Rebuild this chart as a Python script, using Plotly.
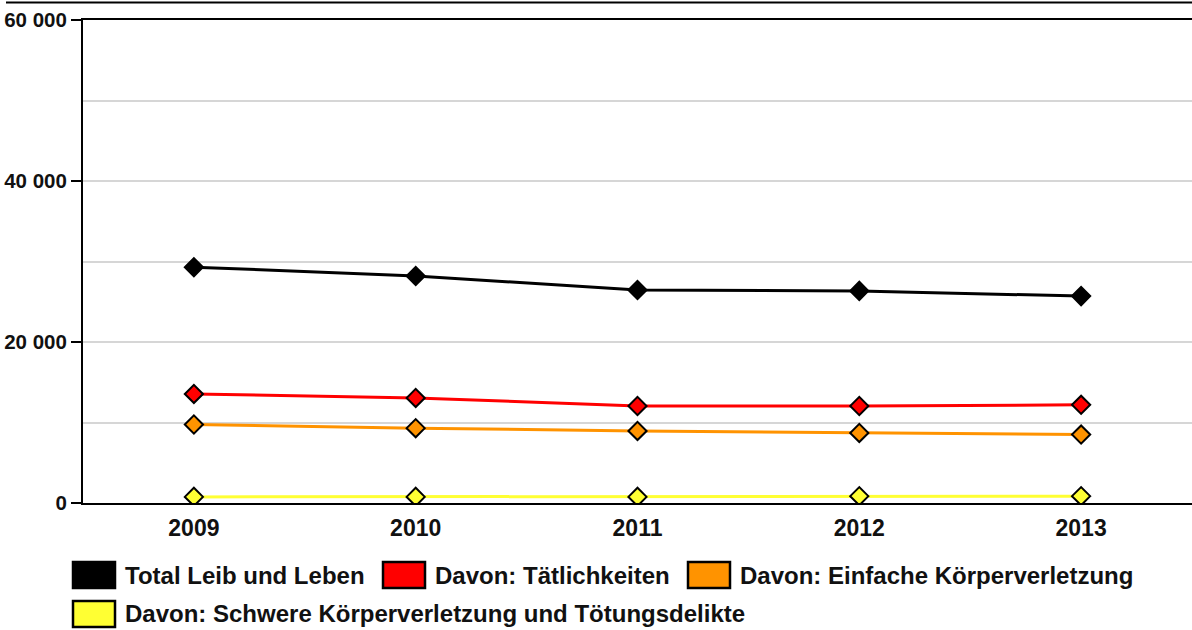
import plotly.graph_objects as go

# ---- data ----
years = ["2009", "2010", "2011", "2012", "2013"]
series_names = [
    "Total Leib und Leben",
    "Davon: Tätlichkeiten",
    "Davon: Einfache Körperverletzung",
    "Davon: Schwere Körperverletzung und Tötungsdelikte",
]
total_leib_leben = [29300, 28200, 26450, 26350, 25700]
taetlichkeiten = [13550, 13050, 12050, 12050, 12200]
einfache_kv = [9750, 9300, 8950, 8700, 8500]
schwere_kv = [760, 760, 760, 850, 850]
y_tick_values = [0, 20000, 40000, 60000]
y_tick_labels = ["0", "20 000", "40 000", "60 000"]

series_values = [total_leib_leben, taetlichkeiten, einfache_kv, schwere_kv]
colors = ["#000000", "#ff0000", "#ff9300", "#ffff33"]

W, H = 1192, 630
ML, MR, MT, MB = 83, 0, 20, 127
PW, PH = W - ML - MR, H - MT - MB


def px_x(x):
    return (x - ML) / PW


def px_y(y):
    return (H - MB - y) / PH


FONT = "Liberation Sans, Arial, sans-serif"

fig = go.Figure()
for name, vals, col in zip(series_names, series_values, colors):
    fig.add_trace(go.Scatter(
        x=years, y=vals, name=name, mode="lines+markers",
        line=dict(color=col, width=3),
        marker=dict(symbol="diamond", size=14, color=col,
                    line=dict(color="#000000", width=2)),
        showlegend=False,
    ))

# manual legend (rectangles + labels)
legend_pos = [(73, 575), (383, 575), (688, 575), (73, 614)]
shapes = []
annotations = []
for (lx, cy), name, col in zip(legend_pos, series_names, colors):
    shapes.append(dict(type="rect", xref="paper", yref="paper",
                       x0=px_x(lx), x1=px_x(lx + 42),
                       y0=px_y(cy - 13), y1=px_y(cy + 13),
                       fillcolor=col, line=dict(color="#000000", width=2.5)))
    annotations.append(dict(xref="paper", yref="paper",
                            x=px_x(lx + 50), y=px_y(cy),
                            xanchor="left", yanchor="middle",
                            text=name, showarrow=False,
                            font=dict(family=FONT, size=24, color="#111111",
                                      weight="bold")))

# top border line
shapes.append(dict(type="line", xref="paper", yref="paper",
                   x0=px_x(6), x1=px_x(W), y0=px_y(2.5), y1=px_y(2.5),
                   line=dict(color="#000000", width=2)))

fig.update_layout(
    width=W, height=H,
    margin=dict(l=ML, r=MR, t=MT, b=MB),
    paper_bgcolor="white", plot_bgcolor="white",
    showlegend=False,
    shapes=shapes, annotations=annotations,
    xaxis=dict(
        type="category", range=[-0.5, 4.5],
        showgrid=False, zeroline=False,
        showline=True, linecolor="#000000", linewidth=2, mirror=True,
        ticks="outside", ticklen=3, tickcolor="rgba(0,0,0,0)",
        tickfont=dict(family=FONT, size=23, color="#111111", weight="bold"),
    ),
    yaxis=dict(
        range=[0, 60000],
        tickvals=y_tick_values, ticktext=y_tick_labels,
        showgrid=True, gridcolor="#d6d6d6", gridwidth=2,
        zeroline=False,
        showline=True, linecolor="#000000", linewidth=2,
        ticks="outside", ticklen=10, tickwidth=2, tickcolor="#000000",
        tickfont=dict(family=FONT, size=20.5, color="#111111", weight="bold"),
        minor=dict(dtick=10000, showgrid=True, gridcolor="#d6d6d6",
                   gridwidth=2, ticks=""),
    ),
)

fig.write_html(
    "out.html",
    config={"displayModeBar": False},
    post_script="document.body.style.margin='0';document.body.style.overflow='hidden';",
)
